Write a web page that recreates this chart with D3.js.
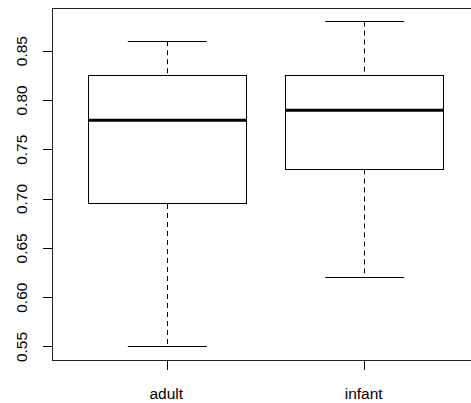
<!DOCTYPE html>
<html>
<head>
<meta charset="utf-8">
<script src="https://cdn.jsdelivr.net/npm/d3@7"></script>
<style>
  html, body { margin: 0; padding: 0; background: #fff; }
  svg { display: block; }
  text { font-family: "Liberation Sans", Arial, sans-serif; fill: #000; }
</style>
</head>
<body>
<script>
// Box-plot summary statistics per group
const groups = ["adult", "infant"];
const lowerWhisker = [0.55, 0.62];
const q1 = [0.695, 0.73];
const median = [0.78, 0.79];
const q3 = [0.825, 0.825];
const upperWhisker = [0.86, 0.88];
const yTicks = [0.55, 0.60, 0.65, 0.70, 0.75, 0.80, 0.85];

const W = 471, H = 403;
const svg = d3.select("body").append("svg").attr("width", W).attr("height", H);

// Data range padded by 4% on each side, like base graphics
const lo = d3.min(lowerWhisker), hi = d3.max(upperWhisker);
const pad = (hi - lo) * 0.04;
const y = d3.scaleLinear().domain([lo - pad, hi + pad]).range([360, 8.5]);
const xPad = (groups.length + 0.5 - 0.5) * 0.04;
const x = d3.scaleLinear().domain([0.5 - xPad, groups.length + 0.5 + xPad]).range([52.8, 479.2]);

const boxHalf = 0.4, capHalf = 0.2;
const data = groups.map((g, i) => ({
  g, pos: i + 1,
  lw: lowerWhisker[i], q1: q1[i], med: median[i], q3: q3[i], uw: upperWhisker[i]
}));

const crisp = v => Math.round(v - 0.5) + 0.5;

const b = svg.append("g").selectAll("g").data(data).join("g");

// whiskers (dashed)
b.append("line")
  .attr("x1", d => crisp(x(d.pos))).attr("x2", d => crisp(x(d.pos)))
  .attr("y1", d => y(d.uw)).attr("y2", d => y(d.q3))
  .attr("stroke", "#000").attr("stroke-dasharray", "5,4");
b.append("line")
  .attr("x1", d => crisp(x(d.pos))).attr("x2", d => crisp(x(d.pos)))
  .attr("y1", d => y(d.q1)).attr("y2", d => y(d.lw))
  .attr("stroke", "#000").attr("stroke-dasharray", "5,4");

// whisker caps
["uw", "lw"].forEach(k => {
  b.append("line")
    .attr("x1", d => x(d.pos - capHalf)).attr("x2", d => x(d.pos + capHalf))
    .attr("y1", d => crisp(y(d[k]))).attr("y2", d => crisp(y(d[k])))
    .attr("stroke", "#000");
});

// boxes
b.append("rect")
  .attr("x", d => crisp(x(d.pos - boxHalf)))
  .attr("y", d => crisp(y(d.q3)))
  .attr("width", d => Math.round(x(d.pos + boxHalf) - x(d.pos - boxHalf)))
  .attr("height", d => Math.round(y(d.q1) - y(d.q3)))
  .attr("fill", "#fff").attr("stroke", "#000");

// medians
b.append("line")
  .attr("x1", d => x(d.pos - boxHalf)).attr("x2", d => x(d.pos + boxHalf))
  .attr("y1", d => y(d.med)).attr("y2", d => y(d.med))
  .attr("stroke", "#000").attr("stroke-width", 3);

// frame
svg.append("rect")
  .attr("x", crisp(x.range()[0])).attr("y", crisp(y.range()[1]))
  .attr("width", x.range()[1] - x.range()[0])
  .attr("height", Math.round(y.range()[0] - y.range()[1]))
  .attr("fill", "none").attr("stroke", "#222");

// y axis
const yAxis = svg.append("g");
yAxis.selectAll("line").data(yTicks).join("line")
  .attr("x1", 43).attr("x2", crisp(x.range()[0]))
  .attr("y1", d => crisp(y(d))).attr("y2", d => crisp(y(d)))
  .attr("stroke", "#000");
yAxis.selectAll("text").data(yTicks).join("text")
  .attr("transform", d => `translate(27,${y(d)}) rotate(-90)`)
  .attr("text-anchor", "middle")
  .style("font-size", "15.5px")
  .text(d3.format(".2f"));

// x axis
const xAxis = svg.append("g");
xAxis.selectAll("line").data(data).join("line")
  .attr("x1", d => crisp(x(d.pos))).attr("x2", d => crisp(x(d.pos)))
  .attr("y1", 360).attr("y2", 370)
  .attr("stroke", "#000");
xAxis.selectAll("text").data(data).join("text")
  .attr("x", d => x(d.pos) - 1).attr("y", 399)
  .attr("text-anchor", "middle")
  .style("font-size", "15.5px")
  .text(d => d.g);
</script>
</body>
</html>
